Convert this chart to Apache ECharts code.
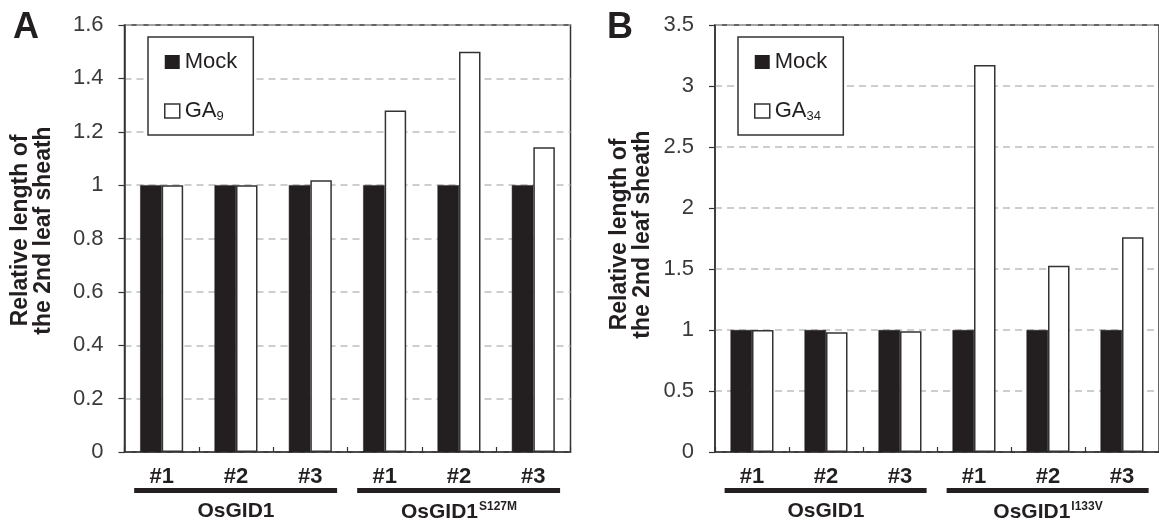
<!DOCTYPE html>
<html>
<head>
<meta charset="utf-8">
<script src="https://cdn.jsdelivr.net/npm/echarts@6/dist/echarts.min.js"></script>
<style>
html,body{margin:0;padding:0;background:#fff;}
#chart{width:1159px;height:527px;}
</style>
</head>
<body>
<div id="chart"></div>
<script>
// ---- data ----
var categories = ['#1', '#2', '#3', '#1', '#2', '#3'];
var groupsA = ['OsGID1', 'OsGID1'];
var groupSupA = ['', 'S127M'];
var groupsB = ['OsGID1', 'OsGID1'];
var groupSupB = ['', 'I133V'];
var mockA = [1, 1, 1, 1, 1, 1];
var ga9 = [1.0, 1.0, 1.018, 1.28, 1.50, 1.142];
var mockB = [1, 1, 1, 1, 1, 1];
var ga34 = [1.0, 0.981, 0.99, 3.172, 1.527, 1.76];
var yTitle = 'Relative length of\nthe 2nd leaf sheath';

var FONT = 'Liberation Sans, Arial, sans-serif';
var DARK = '#231f20';
var AX = '#333333';

var chart = echarts.init(document.getElementById('chart'), null, {renderer: 'canvas'});

function yAxis(gridIndex, max, interval, nameGap, shiftUp) {
  return {
    type: 'value', gridIndex: gridIndex, min: 0, max: max, interval: interval,
    name: yTitle, nameLocation: 'middle', nameRotate: 90, nameGap: nameGap,
    nameTextStyle: {fontFamily: FONT, fontWeight: 'bold', fontSize: 23, color: DARK, lineHeight: 23, align: 'center',
      padding: [0, 0, 0, shiftUp]},
    axisLine: {show: true, lineStyle: {color: AX, width: 1.5}},
    axisTick: {show: true, inside: false, length: 6, lineStyle: {color: AX, width: 1.2}},
    axisLabel: {fontFamily: FONT, fontSize: 22, color: '#3a3a3a', margin: 21},
    splitLine: {show: true, lineStyle: {color: '#bdbdbd', width: 1.5, type: [7, 5]}}
  };
}
function xAxis(gridIndex) {
  return {
    type: 'category', gridIndex: gridIndex, data: categories,
    axisLine: {show: true, lineStyle: {color: AX, width: 1.5}},
    axisTick: {show: true, inside: true, length: 5, lineStyle: {color: AX, width: 1.2}},
    axisLabel: {fontFamily: FONT, fontWeight: 'bold', fontSize: 22, color: DARK, margin: 14, interval: 0}
  };
}
function groupAxis(gridIndex, names, sups) {
  return {
    type: 'category', gridIndex: gridIndex, position: 'bottom',
    data: names.map(function (n, i) { return n + '|' + i; }),
    axisLine: {show: false}, axisTick: {show: false}, splitLine: {show: false},
    axisLabel: {
      interval: 0, margin: 49,
      formatter: function (v) {
        var parts = v.split('|'); var i = +parts[1];
        return sups[i] ? parts[0] + '{sup|' + sups[i] + '}' : parts[0];
      },
      fontFamily: FONT, fontWeight: 'bold', fontSize: 21, color: DARK,
      rich: {sup: {fontFamily: FONT, fontWeight: 'bold', fontSize: 12, color: DARK, verticalAlign: 'top', padding: [0, 0, 10, 1]}}
    }
  };
}
function legend(left, names, subs) {
  return {
    left: left, top: 37, orient: 'vertical',
    padding: [14, 16, 12, 16], itemGap: 27, itemWidth: 15, itemHeight: 14,
    borderColor: AX, borderWidth: 1.5, backgroundColor: '#fff',
    data: [
      {name: names[0], icon: 'rect', itemStyle: {color: DARK, borderColor: DARK, borderWidth: 0}},
      {name: names[1], icon: 'rect', itemStyle: {color: '#fff', borderColor: AX, borderWidth: 1.5}}
    ],
    formatter: function (n) { return n === names[1] ? 'GA{sub|' + subs + '}' : n; },
    textStyle: {fontFamily: FONT, fontSize: 22, color: DARK, padding: [0, 0, 0, 0],
      rich: {sub: {fontFamily: FONT, fontSize: 13, color: DARK, verticalAlign: 'bottom', padding: [11, 0, 0, 0]}}},
    selectedMode: false
  };
}
function bars(name, data, xi, yi, white) {
  return {
    type: 'bar', name: name, data: data, xAxisIndex: xi, yAxisIndex: yi,
    barWidth: 21.5, barGap: '0%',
    itemStyle: white ? {color: '#fff', borderColor: AX, borderWidth: 1.5} : {color: DARK, borderColor: DARK, borderWidth: 0.5},
    emphasis: {disabled: true}, silent: true, animation: false
  };
}

chart.setOption({
  animation: false,
  title: [
    {text: 'A', left: 8, top: 5, textStyle: {fontFamily: FONT, fontWeight: 'bold', fontSize: 36, color: DARK}},
    {text: 'B', left: 602, top: 5, textStyle: {fontFamily: FONT, fontWeight: 'bold', fontSize: 36, color: DARK}}
  ],
  grid: [
    {left: 124.5, top: 25, right: 588.5, bottom: 75, show: true, borderColor: AX, borderWidth: 1.5,
      backgroundColor: 'transparent', containLabel: false, outerBoundsMode: 'none'},
    {left: 715, top: 25, right: 0, bottom: 75, show: true, borderColor: AX, borderWidth: 1.5,
      backgroundColor: 'transparent', containLabel: false, outerBoundsMode: 'none'}
  ],
  xAxis: [xAxis(0), xAxis(1), groupAxis(0, groupsA, groupSupA), groupAxis(1, groupsB, groupSupB)],
  yAxis: [yAxis(0, 1.6, 0.2, 69, 16), yAxis(1, 3.5, 0.5, 61, 8)],
  legend: [legend(148, ['Mock', 'GA9'], '9'), legend(738, ['Mock', 'GA34'], '34')],
  series: [
    bars('Mock', mockA, 0, 0, false),
    bars('GA9', ga9, 0, 0, true),
    bars('Mock', mockB, 1, 1, false),
    bars('GA34', ga34, 1, 1, true)
  ]
});

// group underline bars below the category labels
function groupLines(xi, yi) {
  var y0 = chart.convertToPixel({yAxisIndex: yi}, 0);
  var x0 = chart.convertToPixel({xAxisIndex: xi}, 0);
  var x1 = chart.convertToPixel({xAxisIndex: xi}, 1);
  var step = x1 - x0;
  var out = [];
  [[0, 2], [3, 5]].forEach(function (g) {
    var a = chart.convertToPixel({xAxisIndex: xi}, g[0]) - step * 0.37;
    var b = chart.convertToPixel({xAxisIndex: xi}, g[1]) + step * 0.36;
    out.push({type: 'line', silent: true, shape: {x1: a, y1: y0 + 38.5, x2: b, y2: y0 + 38.5},
      style: {stroke: DARK, lineWidth: 5}});
  });
  return out;
}
chart.setOption({graphic: groupLines(0, 0).concat(groupLines(1, 1))});
</script>
</body>
</html>
